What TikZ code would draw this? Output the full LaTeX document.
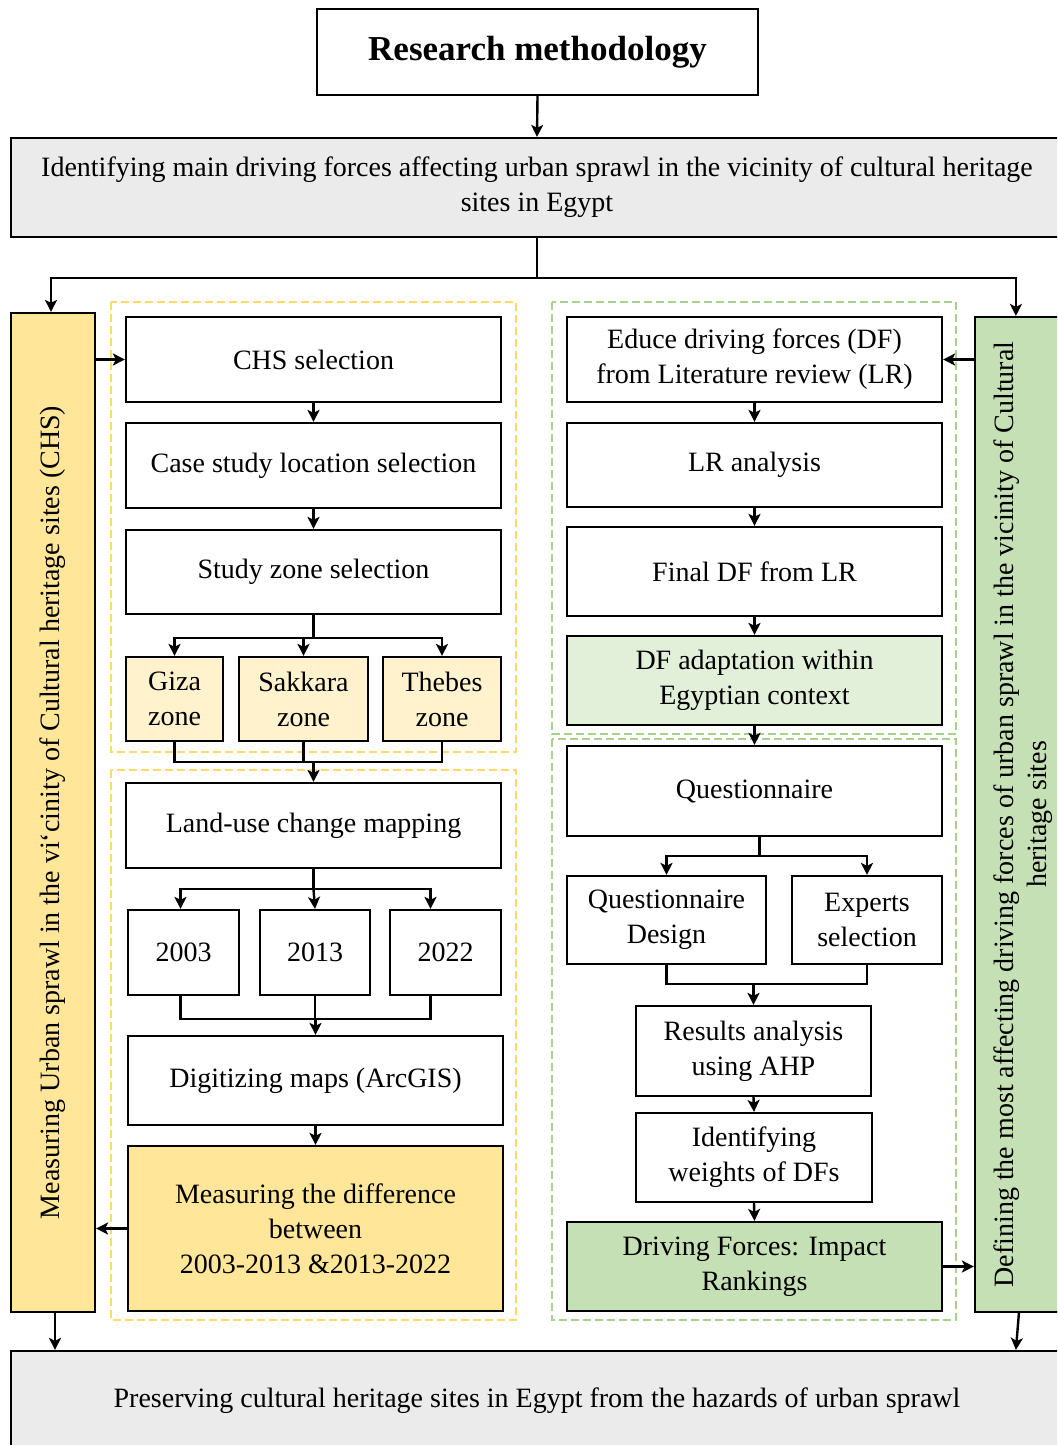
\documentclass[tikz,border=0pt]{standalone}
\usepackage{fontspec}
\setmainfont{Liberation Serif}
\usetikzlibrary{arrows.meta,calc}
\definecolor{grayfill}{HTML}{EBEBEB}
\definecolor{yfill}{HTML}{FFE699}
\definecolor{zfill}{HTML}{FFF2CC}
\definecolor{gfill}{HTML}{C5E0B4}
\definecolor{lgfill}{HTML}{E2F0D9}
\definecolor{ydash}{HTML}{FFD966}
\definecolor{gdash}{HTML}{A9D18E}
\begin{document}
\begin{tikzpicture}[x=1pt,y=-1pt,
  box/.style={draw=black, line width=2.2pt, align=center, inner sep=2pt,
    font=\fontsize{28}{35}\selectfont},
  arr/.style={line width=2.4pt, -{Stealth[length=12pt,width=12pt,inset=3pt]}},
  ln/.style={line width=2.4pt},
  ygroup/.style={draw=ydash, line width=1.8pt, dash pattern=on 8pt off 4pt},
  ggroup/.style={draw=gdash, line width=1.8pt, dash pattern=on 8pt off 4pt},
  rtext/.style={rotate=90, align=center, font=\fontsize{28}{33}\selectfont}]
\clip (0,0) rectangle (1057,1445);
\fill[white] (0,0) rectangle (1057,1445);

% dashed groups
\draw[ygroup] (111,302) rectangle (516,752);
\draw[ygroup] (111,770) rectangle (516,1320);
\draw[ggroup] (552,302) rectangle (956,734);
\draw[ggroup] (552,739) rectangle (956,1320);

% top
\node[box, minimum width=441pt, minimum height=86pt, font=\fontsize{35}{40}\selectfont\bfseries] (rm) at (537.5,52) {Research methodology};
\node[box, fill=grayfill, minimum width=1052pt, minimum height=99pt] (idf) at (537,187.5)
  {Identifying main driving forces affecting urban sprawl in the vicinity of cultural heritage\\sites in Egypt};

% side boxes
\node[box, fill=yfill, minimum width=84pt, minimum height=999pt] (lbox) at (53,812.5) {};
\node[rtext] (ltxt) at (lbox.center) {Measuring Urban sprawl in the vi`cinity of Cultural heritage sites (CHS)};
\node[box, fill=gfill, minimum width=96pt, minimum height=995pt] (rbox) at (1023,814.5) {};
\node[rtext] (rtxt) at (rbox.center) {Defining the most affecting driving forces of urban sprawl in the vicinity of Cultural\\heritage sites};

% left column
\node[box, minimum width=375pt, minimum height=85pt] (chs) at (313.5,359.5) {CHS selection};
\node[box, minimum width=375pt, minimum height=85pt] (csl) at (313.5,465.5) {Case study location selection};
\node[box, minimum width=375pt, minimum height=84pt] (szs) at (313.5,572) {Study zone selection};
\node[box, fill=zfill, minimum width=97pt, minimum height=84pt] (giza) at (174.5,699) {Giza\\zone};
\node[box, fill=zfill, minimum width=129pt, minimum height=84pt] (sak) at (303.5,699) {Sakkara\\zone};
\node[box, fill=zfill, minimum width=118pt, minimum height=84pt] (theb) at (442,699) {Thebes\\zone};
\node[box, minimum width=375pt, minimum height=85pt] (luc) at (313.5,825.5) {Land-use change mapping};
\node[box, minimum width=111pt, minimum height=85pt] (y2003) at (183.5,952.5) {2003};
\node[box, minimum width=110pt, minimum height=85pt] (y2013) at (315,952.5) {2013};
\node[box, minimum width=111pt, minimum height=85pt] (y2022) at (445.5,952.5) {2022};
\node[box, minimum width=375pt, minimum height=89pt] (dig) at (315.5,1080.5) {Digitizing maps (ArcGIS)};
\node[box, fill=yfill, minimum width=375pt, minimum height=165pt] (mdiff) at (315.5,1228.5)
  {Measuring the difference\\between\\2003-2013 \&2013-2022};

% right column
\node[box, minimum width=375pt, minimum height=85pt] (educe) at (754.5,359.5) {Educe driving forces (DF)\\from Literature review (LR)};
\node[box, minimum width=375pt, minimum height=84pt] (lra) at (754.5,465) {LR analysis};
\node[box, minimum width=375pt, minimum height=89pt] (fdf) at (754.5,571.5) {Final DF from LR};
\node[box, fill=lgfill, minimum width=375pt, minimum height=89pt] (dfa) at (754.5,680.5) {DF adaptation within\\Egyptian context};
\node[box, minimum width=375pt, minimum height=90pt] (quest) at (754.5,791) {Questionnaire};
\node[box, minimum width=199pt, minimum height=88pt] (qd) at (666.5,920) {Questionnaire\\Design};
\node[box, minimum width=150pt, minimum height=88pt] (exp) at (867,920) {Experts\\selection};
\node[box, minimum width=235pt, minimum height=90pt] (res) at (753.5,1051) {Results analysis\\using AHP};
\node[box, minimum width=236pt, minimum height=89pt] (idw) at (754,1157.5) {Identifying\\weights of DFs};
\node[box, fill=gfill, minimum width=375pt, minimum height=89pt] (dfir) at (754.5,1266.5) {Driving Forces: Impact\\Rankings};

% bottom
\node[box, fill=grayfill, minimum width=1052pt, minimum height=99pt] (pres) at (537,1400.5)
  {Preserving cultural heritage sites in Egypt from the hazards of urban sprawl};

% connectors top
\draw[arr] (rm.south) -- (idf.north);
\draw[ln] (idf.south) -- ++(0,40) coordinate (split);
\draw[arr] (split) -| ([xshift=-2pt]lbox.north);
\draw[arr] (split) -| ([xshift=42pt]rbox.north west);

% left flow
\draw[arr] (lbox.east |- chs.west) -- (chs.west);
\draw[arr] (chs.south) -- (csl.north);
\draw[arr] (csl.south) -- (szs.north);
\draw[ln] (szs.south) -- ++(0,23) coordinate (b1);
\draw[arr] (b1) -| (giza.north);
\draw[arr] (b1) -| (theb.north);
\draw[arr] (b1 -| sak.north) -- (sak.north);
\coordinate (m1) at ([yshift=20pt]luc.north);
\draw[ln] (giza.south) -- (giza.south |- m1) -- (theb.south |- m1) -- (theb.south);
\draw[ln] (sak.south) -- (sak.south |- m1);
\draw[arr] (m1) -- (luc.north);
\draw[ln] (luc.south) -- ++(0,20) coordinate (b2);
\draw[arr] (b2) -| ([xshift=-3pt]y2003.north);
\draw[arr] (b2) -| ([xshift=-15pt]y2022.north);
\draw[arr] (b2) -- (y2013.north);
\coordinate (m2) at ([yshift=16pt]dig.north);
\draw[ln] ([xshift=-3pt]y2003.south) -- ([xshift=-3pt]y2003.south |- m2) -- ([xshift=-15pt]y2022.south |- m2) -- ([xshift=-15pt]y2022.south);
\draw[ln] (y2013.south) -- (y2013.south |- m2);
\draw[arr] (m2) -- (dig.north);
\draw[arr] (dig.south) -- (mdiff.north);
\draw[arr] (mdiff.west) -- (lbox.east |- mdiff.west);
\draw[arr] ([xshift=2pt]lbox.south) -- ([xshift=2pt]lbox.south |- pres.north);

% right flow
\draw[arr] (rbox.west |- educe.east) -- (educe.east);
\draw[arr] (educe.south) -- (lra.north);
\draw[arr] (lra.south) -- (fdf.north);
\draw[arr] (fdf.south) -- (dfa.north);
\draw[arr] (dfa.south) -- (quest.north);
\draw[ln] ([xshift=5pt]quest.south) -- ++(0,19) coordinate (b3);
\draw[arr] (b3) -| (qd.north);
\draw[arr] (b3) -| (exp.north);
\coordinate (m3) at ([yshift=21pt]res.north);
\draw[ln] (qd.south) -- (qd.south |- m3) -- (exp.south |- m3) -- (exp.south);
\draw[arr] (m3) -- (res.north);
\draw[arr] (res.south) -- (idw.north);
\draw[arr] (idw.south) -- (dfir.north);
\draw[arr] (dfir.east) -- (rbox.west |- dfir.east);
\draw[arr] ([xshift=45pt]rbox.south west) -- ([xshift=42pt]rbox.south west |- pres.north);
\end{tikzpicture}
\end{document}
